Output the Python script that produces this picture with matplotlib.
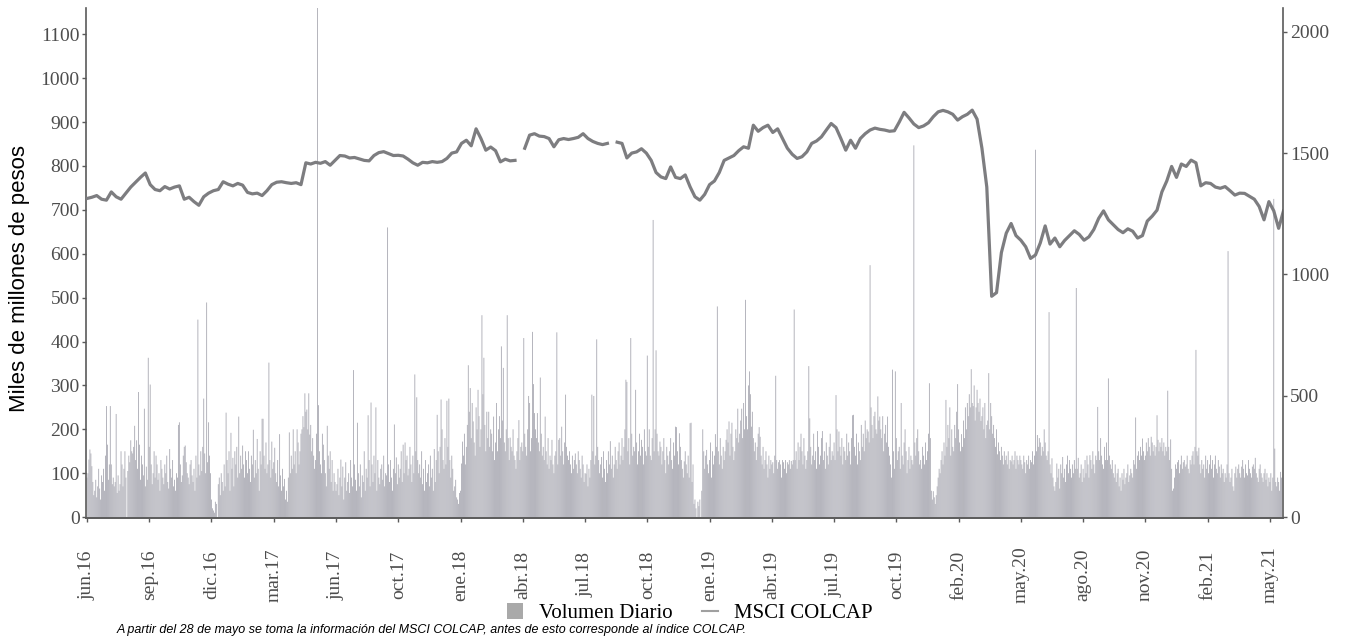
import numpy as np
import matplotlib.pyplot as plt
from matplotlib.patches import Patch
from matplotlib.lines import Line2D

# volumen diario negociado (miles de millones de pesos), una cifra por rueda
volumen = np.array([float(v) for v in """
90 100 131 154 145 116 80 50 60 85 45 70 110 65 40 95
80 110 60 140 253 165 85 120 253 120 75 90 70 80 235 55
95 60 75 150 120 70 110 150 90 0 105 140 125 175 150 145
160 208 130 175 110 285 165 85 140 120 95 247 70 115 85 363
160 302 120 75 100 150 90 140 120 85 100 60 130 110 90 75
120 100 140 80 65 155 110 90 130 70 85 60 100 90 210 216
120 80 95 140 160 163 125 100 90 75 120 130 95 80 110 60
140 90 450 120 95 150 105 160 270 145 100 489 125 216 140 100
40 20 15 10 35 30 0 75 90 50 100 80 60 120 70 238
130 100 150 60 192 110 135 70 150 120 160 90 229 100 140 110
163 120 90 150 130 100 150 110 80 140 120 199 90 130 100 178
110 60 150 120 224 224 140 110 170 100 120 352 130 90 172 110
125 158 100 80 130 70 189 95 60 110 70 87 40 60 35 90
193 100 140 110 200 120 150 100 200 170 120 150 190 200 230 205
282 240 245 200 282 188 210 150 180 140 110 130 190 1165 255 150
120 100 190 165 130 100 70 208 140 110 150 80 130 60 100 80
60 75 110 50 90 131 70 115 40 90 125 60 80 100 55 130
90 70 335 120 85 60 215 100 70 120 45 95 80 150 60 110
90 232 130 70 261 120 80 140 100 250 60 130 90 75 110 120
85 140 70 100 95 660 120 80 130 90 60 110 211 100 136 75
120 90 110 150 80 165 100 170 130 140 95 110 160 120 80 140
100 325 150 273 130 100 120 90 150 75 110 60 130 80 100 120
70 140 90 110 60 155 80 130 233 150 100 160 268 200 130 110
180 120 265 160 270 130 90 140 110 60 70 85 45 40 30 55
60 122 172 140 190 120 160 210 346 240 294 180 260 218 170 140
250 200 290 230 160 200 460 280 363 210 150 240 180 240 160 200
190 150 229 130 170 260 150 200 230 180 389 220 340 170 150 200
460 180 130 181 160 150 200 140 130 110 150 180 221 130 160 170
150 408 190 160 140 200 276 260 150 180 422 303 237 200 180 237
170 150 318 190 140 160 130 229 150 120 180 110 140 130 176 120
100 140 150 421 120 176 180 140 206 150 120 170 279 160 140 130
150 120 100 140 110 130 145 120 100 150 130 110 90 140 120 80
100 99 120 70 110 90 130 279 150 276 120 140 405 160 130 100
120 137 90 150 110 80 130 100 150 120 173 110 140 90 120 160
130 110 150 170 120 140 180 130 160 200 313 308 150 180 120 408
190 140 160 150 290 170 120 150 190 140 176 160 120 200 150 140
368 160 200 140 130 180 677 150 200 380 190 150 140 172 160 120
150 180 130 100 160 140 120 150 180 130 110 170 140 206 205 150
120 191 160 130 110 90 127 150 120 100 140 90 214 215 80 120
30 40 20 0 35 25 40 0 60 200 150 110 140 153 120 100
130 170 90 150 120 140 189 160 480 150 120 180 140 110 160 130
150 176 200 170 218 140 190 215 160 130 150 200 180 247 170 190
220 247 180 260 200 495 230 200 300 332 280 206 240 180 150 170
130 160 190 205 183 140 120 160 110 130 150 120 90 140 110 130
120 125 100 140 322 130 110 125 130 120 90 130 125 110 130 100
125 120 130 110 128 120 130 473 130 150 110 170 130 160 190 150
120 180 140 110 130 150 344 225 160 120 140 190 130 150 110 196
160 120 140 180 196 130 150 110 170 140 120 160 190 130 150 140
170 130 278 200 150 195 160 140 180 120 160 150 130 190 140 170
150 120 180 232 233 160 140 190 120 170 150 130 210 160 190 150
220 180 200 195 170 574 250 210 180 230 240 200 190 275 220 229
200 180 230 150 190 210 170 229 160 140 120 90 336 150 110 332
180 130 150 160 110 260 140 120 170 200 150 100 130 160 110 140
130 120 847 170 140 180 200 150 120 130 110 160 140 120 170 130
150 190 305 180 60 40 59 45 30 50 70 90 110 100 130 150
120 170 140 267 160 210 180 250 140 200 160 150 210 180 240 303
200 170 150 189 160 220 180 250 200 260 230 280 250 337 260 253
300 220 250 290 260 240 270 219 230 250 200 260 180 210 220 328
200 260 230 190 210 180 160 200 143 170 150 130 160 140 120 150
130 140 120 150 110 130 127 140 120 130 150 110 140 130 120 140
130 120 110 140 125 100 130 120 140 110 130 125 150 120 140 837
150 187 160 180 170 140 160 150 200 170 140 130 150 467 120 100
134 90 70 60 80 122 90 110 65 120 100 137 90 110 80 120
140 100 130 110 90 120 100 130 110 522 110 135 90 100 120 80
110 90 130 100 140 120 90 141 130 110 150 120 100 140 130 251
150 130 180 140 120 110 160 130 170 130 316 140 120 110 130 100
90 120 80 100 110 70 90 60 100 85 110 75 90 100 120 80
95 110 100 90 130 120 227 110 140 150 130 160 140 179 150 130
140 170 150 180 160 140 183 170 150 164 140 160 232 176 150 170
160 180 150 170 140 160 150 288 160 130 177 110 60 65 90 120
110 125 130 100 120 140 110 125 130 115 120 140 110 100 130 120
140 150 120 160 381 150 140 158 120 100 130 110 120 90 140 110
130 100 120 141 110 130 90 120 140 110 100 130 115 90 120 100
110 80 100 90 120 606 100 80 90 110 70 60 100 115 90 110
120 100 90 115 130 110 90 120 100 95 130 110 100 90 115 120
110 135 100 90 80 110 120 100 90 80 100 110 85 100 70 90
80 100 60 90 725 156 80 70 90 80 60 103 90
""".split()])

# cierre del indice, una lectura cada 5 ruedas (nan = sin dato)
colcap = np.array([float(v) for v in """
1313 1318 1325 1310 1306 1340 1320 1310 1335 1360 1380 1400 1418
1370 1350 1345 1362 1352 1360 1365 1310 1318 1300 1285 1320 1335
1345 1350 1382 1372 1365 1375 1368 1338 1332 1335 1325 1345 1370
1380 1382 1378 1375 1378 1370 1460 1455 1462 1458 1465 1450 1470
1490 1488 1480 1482 1476 1470 1468 1490 1502 1506 1498 1490 1491
1488 1475 1460 1450 1462 1460 1465 1462 1465 1478 1500 1505 1540
1553 1530 1600 1560 1512 1525 1510 1464 1475 1468 1470 nan 1520 1574
1580 1570 1568 1560 1526 1555 1560 1556 1560 1565 1580 1560 1548
1540 1535 1540 nan 1545 1540 1480 1500 1505 1518 1500 1470 1420
1402 1395 1443 1400 1395 1410 1361 1320 1306 1330 1370 1385 1420
1470 1480 1490 1510 1526 1520 1615 1590 1605 1615 1585 1600 1560
1520 1495 1478 1485 1505 1540 1550 1567 1595 1622 1605 1560 1512
1553 1520 1560 1580 1595 1603 1598 1595 1590 1592 1628 1668 1645
1620 1605 1612 1625 1650 1670 1676 1670 1660 1636 1650 1660 1677
1640 1520 1360 910 925 1090 1170 1210 1160 1141 1114 1066 1080
1130 1200 1125 1150 1114 1140 1160 1180 1165 1141 1155 1185 1231
1262 1225 1205 1185 1172 1188 1178 1150 1160 1220 1240 1265 1340
1385 1445 1400 1455 1445 1471 1460 1365 1378 1375 1360 1355 1362
1345 1327 1335 1334 1322 1310 1280 1225 1300 1262 1190 1262
""".split()])

meses = ['jun.16', 'sep.16', 'dic.16', 'mar.17', 'jun.17', 'oct.17', 'ene.18',
         'abr.18', 'jul.18', 'oct.18', 'ene.19', 'abr.19', 'jul.19', 'oct.19',
         'feb.20', 'may.20', 'ago.20', 'nov.20', 'feb.21', 'may.21']
ticks_izq = [0, 100, 200, 300, 400, 500, 600, 700, 800, 900, 1000, 1100]
ticks_der = [0, 500, 1000, 1500, 2000]

color_barra = '#acacb5'
color_linea = '#7d7d80'
color_eje = '#5a5a5a'
color_texto = '#4d4d4d'
serif = 'Liberation Serif'
sans = 'Liberation Sans'

fig = plt.figure(figsize=(13.46, 6.39), dpi=100)
ax = fig.add_axes([0.0639, 0.1894, 0.8893, 0.7981])

dias = np.arange(len(volumen))
barras = ax.bar(dias, volumen, width=0.9, color=color_barra, linewidth=0)
for b in barras:
    b.set_snap(False)
ax.set_xlim(-1, 1229.5)
ax.set_ylim(-2, 1160)

ax2 = ax.twinx()
x_col = np.arange(len(colcap)) * 5
ax2.plot(x_col, colcap, color=color_linea, lw=2.3, solid_joinstyle='round')
ax2.set_ylim(-3.6, 2098)

for a in (ax, ax2):
    a.spines['top'].set_visible(False)
    for s in ('bottom', 'left', 'right'):
        a.spines[s].set_color(color_eje)
        a.spines[s].set_linewidth(1.2)
ax.spines['right'].set_visible(False)
ax2.spines['left'].set_visible(False)

ax.set_yticks(ticks_izq)
ax.set_yticklabels([str(t) for t in ticks_izq], fontfamily=serif, fontsize=14, color=color_texto)
ax2.set_yticks(ticks_der)
ax2.set_yticklabels([str(t) for t in ticks_der], fontfamily=serif, fontsize=14, color=color_texto)
ax.set_xticks(np.arange(len(meses)) * 64)
ax.set_xticklabels(meses, rotation=90, fontfamily=serif, fontsize=14, color=color_texto,
                   va='center')
ax.tick_params(axis='y', length=3, width=1, color=color_eje, pad=1.5)
ax.tick_params(axis='x', length=3, width=1, color=color_eje, pad=38)
ax2.tick_params(axis='y', length=3, width=1, color=color_eje, pad=2)

ax.set_ylabel('Miles de millones de pesos', fontfamily=sans, fontsize=16)
ax.yaxis.set_label_coords(-0.047, 0.47)

handles = [Patch(facecolor='#a9a9a9', edgecolor='none'),
           Line2D([], [], color='#a0a0a0', lw=1.5)]
fig.legend(handles, ['Volumen Diario', 'MSCI COLCAP'], loc='center',
           bbox_to_anchor=(0.5126, 0.040), ncol=2, frameon=False,
           prop={'family': serif, 'size': 15}, handlelength=0.75,
           handleheight=0.75, handletextpad=0.8, columnspacing=1.4)

fig.text(0.087, 0.005, 'A partir del 28 de mayo se toma la información del MSCI COLCAP, '
         'antes de esto corresponde al índice COLCAP.',
         fontfamily=sans, fontstyle='italic', fontsize=9, ha='left', va='bottom')

fig.savefig('out.png', dpi=100)
